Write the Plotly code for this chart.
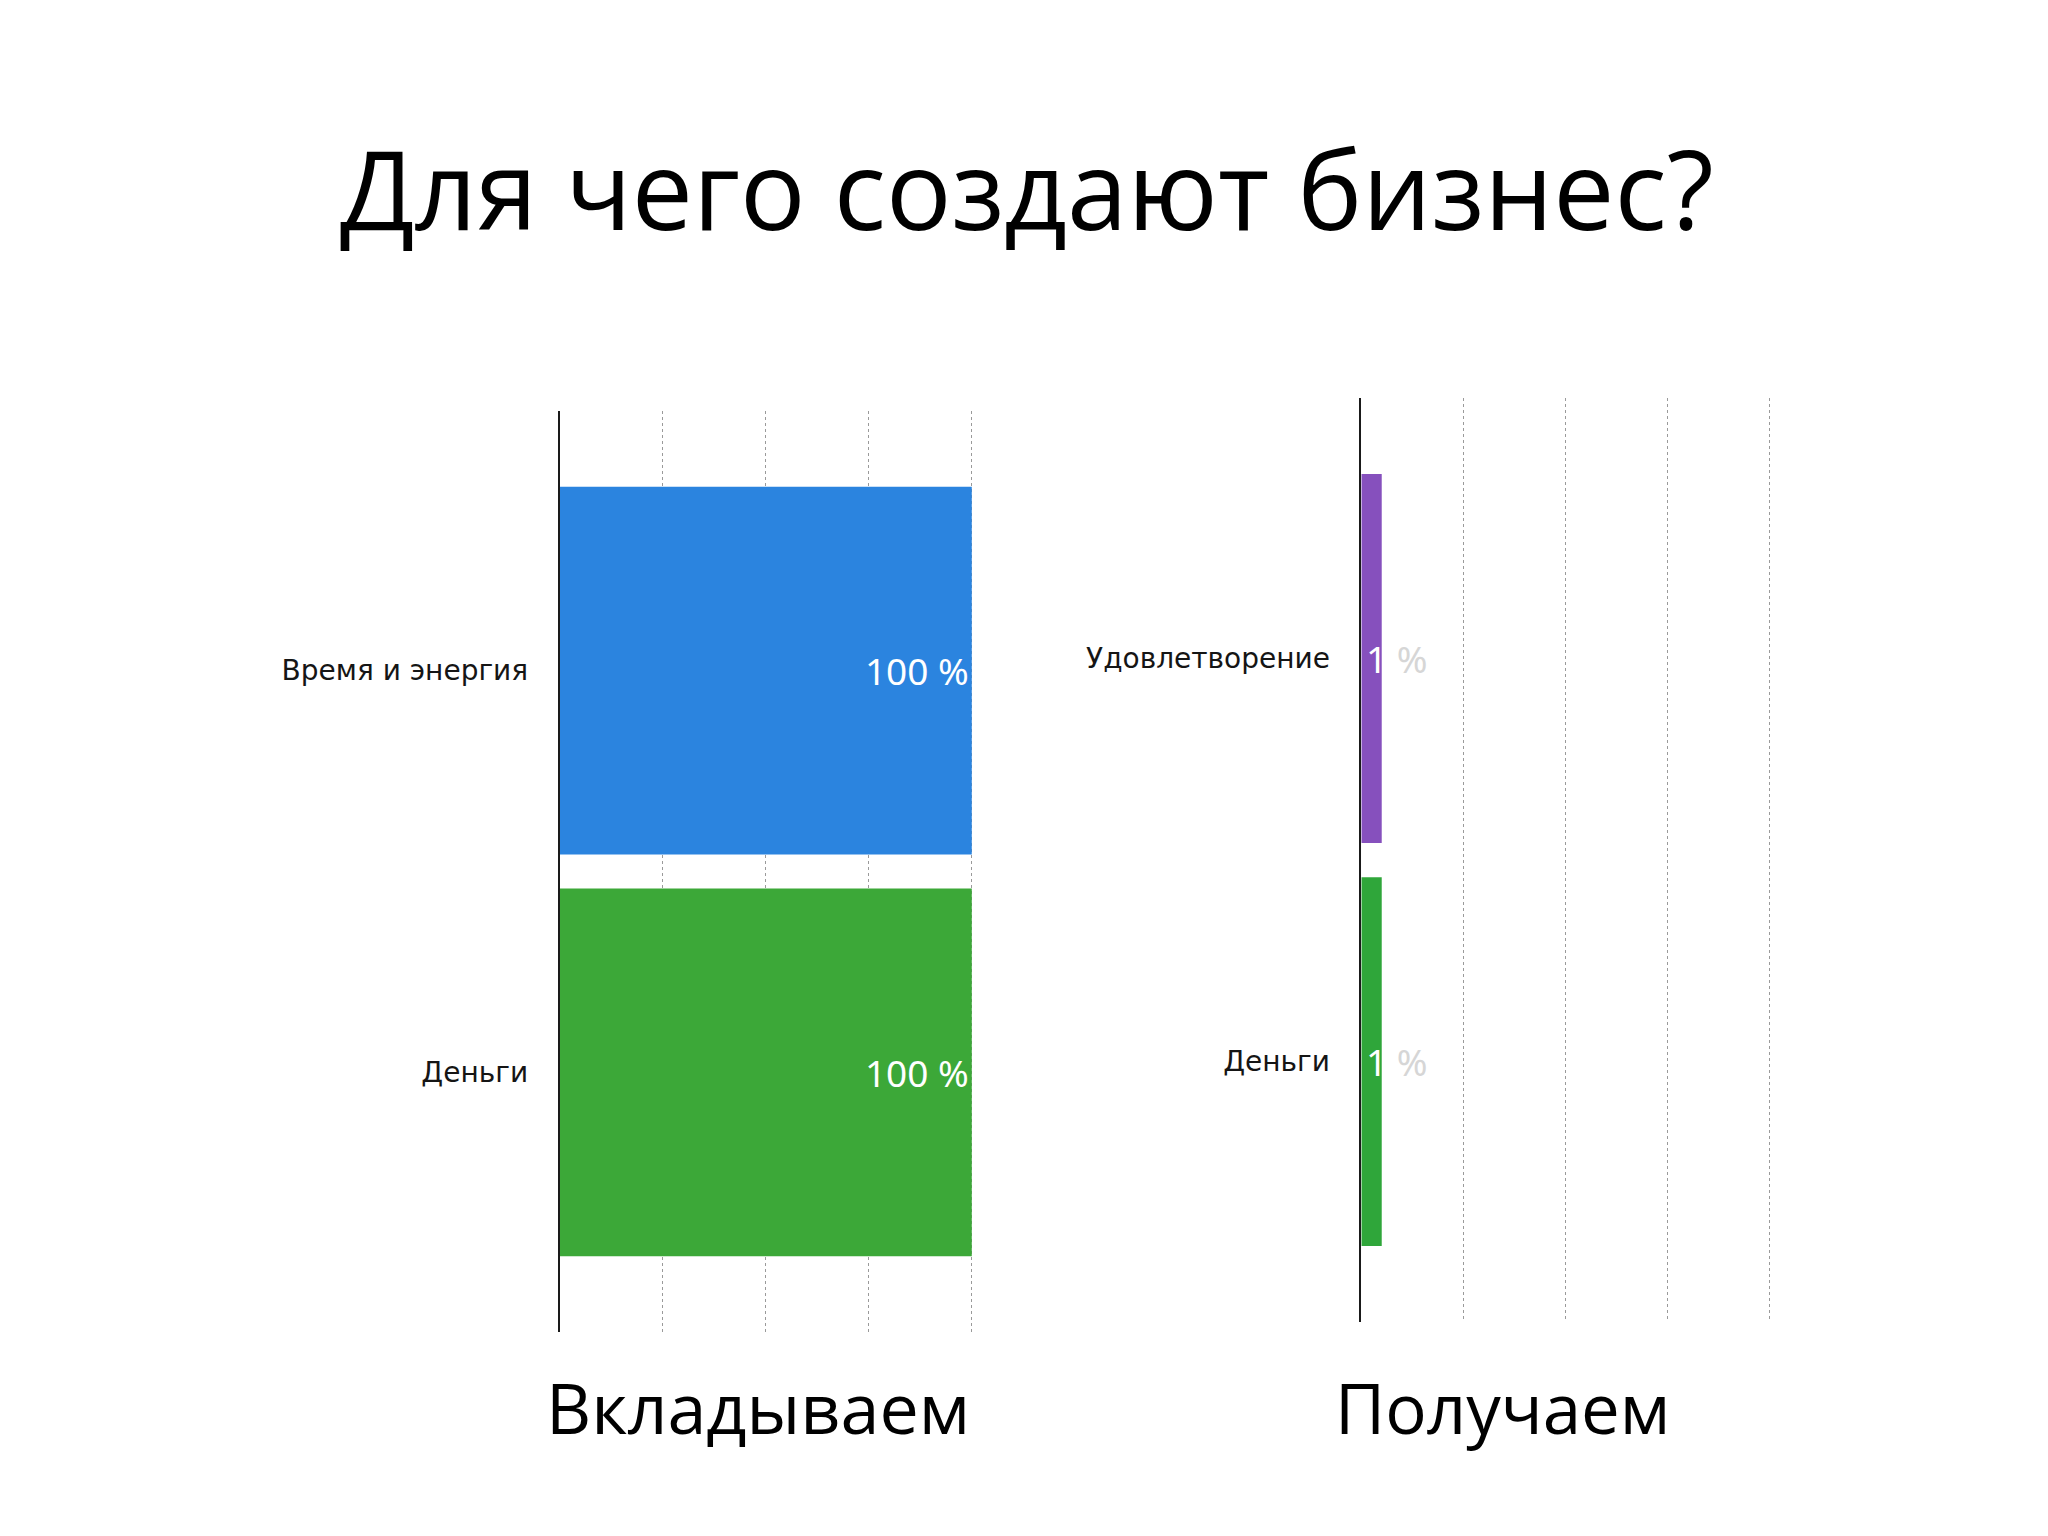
import plotly.graph_objects as go

title = 'Для чего создают бизнес?'

invest_labels = ['Время и энергия', 'Деньги']
invest_values = [100, 100]
invest_colors = ['#2b84df', '#3ca838']

return_labels = ['Удовлетворение', 'Деньги']
return_values = [1, 1]
return_colors = ['#8650bd', '#2fa63a']

invest_caption = 'Вкладываем'
return_caption = 'Получаем'

fig = go.Figure()

fig.add_trace(go.Bar(
    x=invest_values, y=invest_labels, orientation='h',
    marker=dict(color=invest_colors, line=dict(width=0)),
    width=0.915,
    text=[f'{v} %' for v in invest_values],
    textposition='inside', insidetextanchor='end',
    textfont=dict(family='Noto Sans', size=37, color='white'),
    xaxis='x', yaxis='y', showlegend=False,
))

fig.add_trace(go.Bar(
    x=return_values, y=return_labels, orientation='h',
    marker=dict(color=return_colors, line=dict(width=0)),
    width=0.915,
    xaxis='x2', yaxis='y2', showlegend=False,
))

# the "1 %" labels are too wide for the thin bars, so write them as annotations
for lab, v in zip(return_labels, return_values):
    fig.add_annotation(
        x=0, y=lab, xref='x2', yref='y2',
        text=f"<span style='color:white'>{v}</span> <span style='color:#d6d6d6'>%</span>",
        showarrow=False, xanchor='left', xshift=3,
        font=dict(family='Noto Sans', size=37),
    )

grid = dict(showgrid=True, gridcolor='#9a9a9a', griddash='dot', gridwidth=1,
            showticklabels=False, ticks='', zeroline=False, showline=False)
cat = dict(showgrid=False, zeroline=False, showline=True, linecolor='#1a1a1a',
           linewidth=1.5, ticks='', ticklabelstandoff=24,
           tickfont=dict(family='DejaVu Sans', size=28, color='#151515'))

fig.update_layout(
    width=2048, height=1536,
    margin=dict(l=0, r=0, t=0, b=0),
    paper_bgcolor='white', plot_bgcolor='rgba(0,0,0,0)',
    xaxis=dict(domain=[0.2693, 0.4714], range=[0, 100.4], dtick=25, anchor='y', **grid),
    yaxis=dict(domain=[0.1380, 0.7376], range=[1.646, -0.646], anchor='x', **cat),
    xaxis2=dict(domain=[0.6608, 0.8611], range=[0, 20.1], dtick=5, anchor='y2', **grid),
    yaxis2=dict(domain=[0.1445, 0.7461], range=[1.646, -0.646], anchor='x2', **cat),
)

fig.add_annotation(text=title, x=0.4975, y=0.883, xref='paper', yref='paper',
                   showarrow=False, xanchor='center', yanchor='middle',
                   font=dict(family='Open Sans', size=109, color='black'))
fig.add_annotation(text=invest_caption, x=0.3664, y=0.089, xref='paper', yref='paper',
                   showarrow=False, xanchor='center', yanchor='middle',
                   font=dict(family='Open Sans', size=70, color='black'))
fig.add_annotation(text=return_caption, x=0.7299, y=0.089, xref='paper', yref='paper',
                   showarrow=False, xanchor='center', yanchor='middle',
                   font=dict(family='Open Sans', size=69, color='black'))

fig.write_html('out.html')
